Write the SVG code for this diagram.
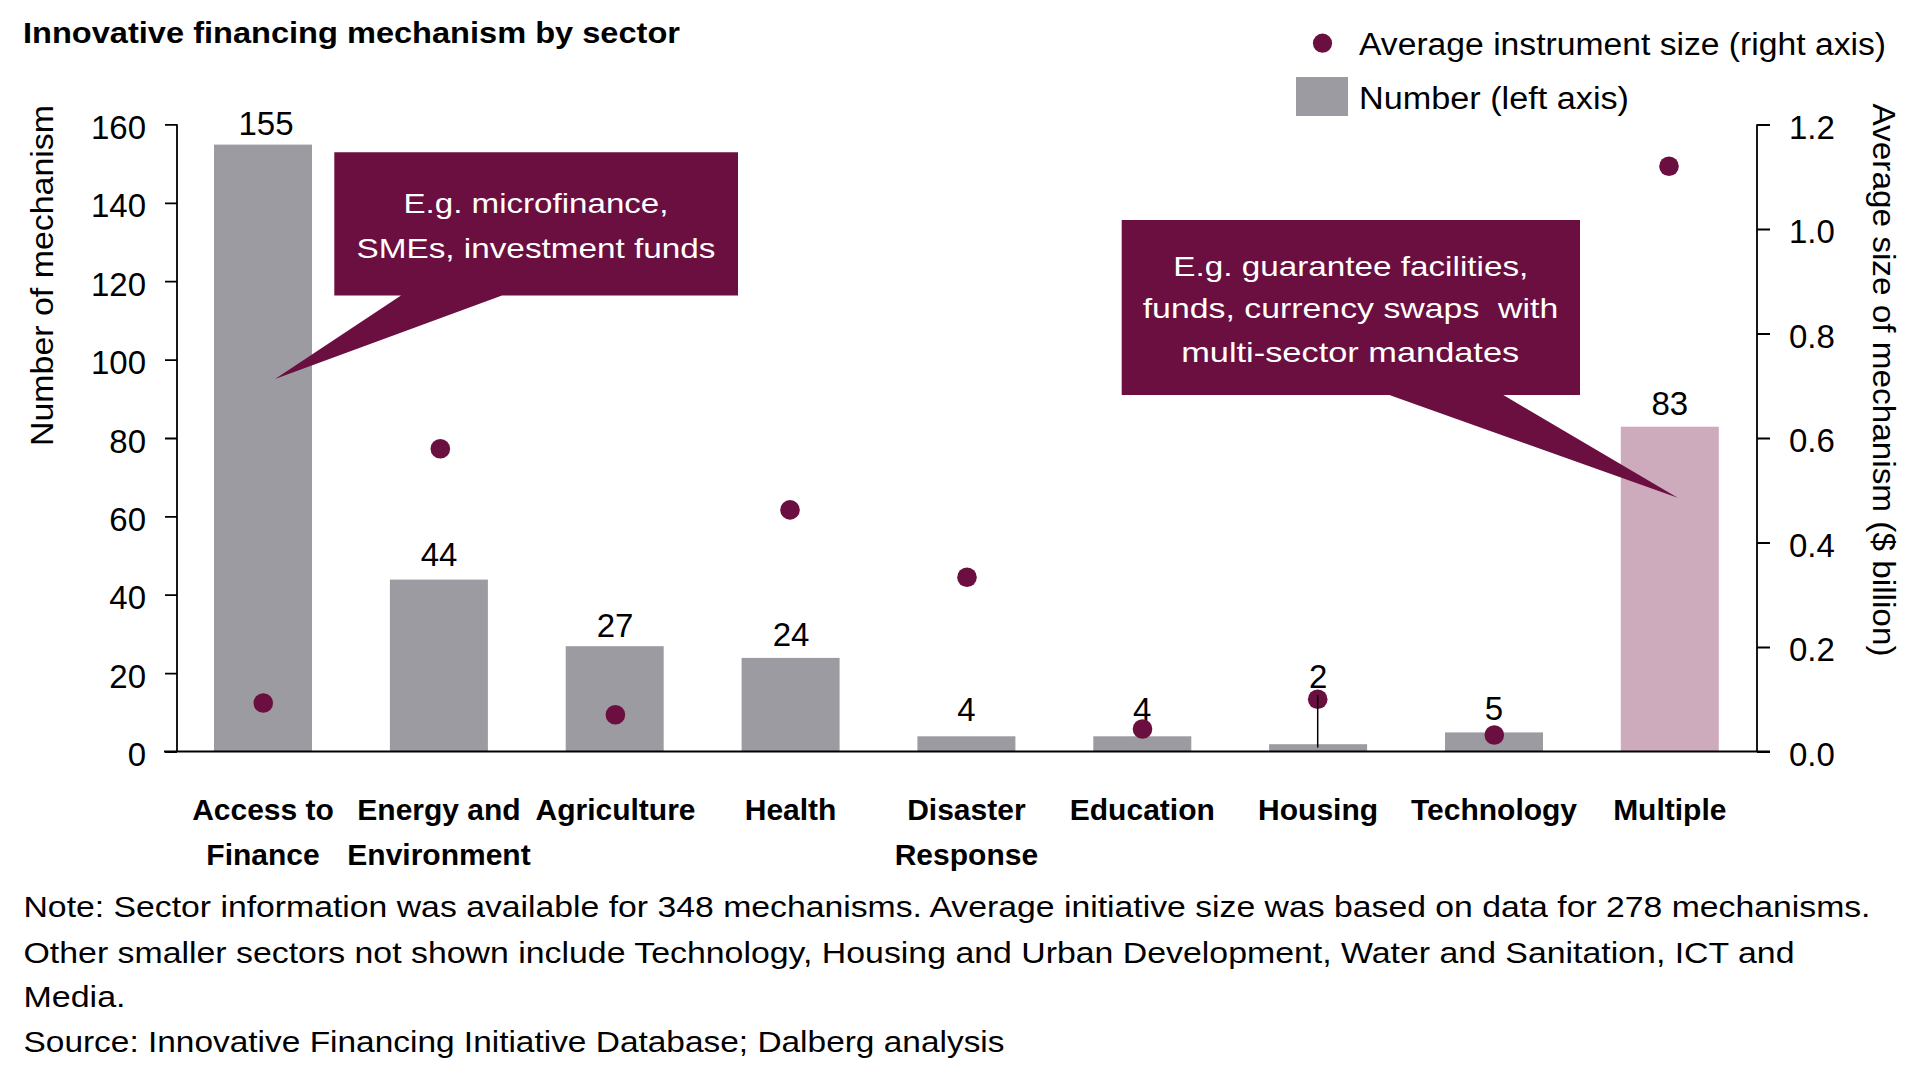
<svg xmlns="http://www.w3.org/2000/svg" width="1920" height="1084" viewBox="0 0 1920 1084">
<style>
  text { font-family: "Liberation Sans", Arial, sans-serif; fill: #000; }
  .title { font-size: 29px; font-weight: bold; }
  .tick { font-size: 33px; }
  .val { font-size: 33px; text-anchor: middle; }
  .cat { font-size: 30px; font-weight: bold; text-anchor: middle; }
  .note { font-size: 30px; }
  .leg { font-size: 31px; }
  .axlab { font-size: 32px; text-anchor: middle; }
  .call { font-size: 28px; fill: #ffffff; text-anchor: middle; }
  .bar { fill: #9C9BA1; }
  .barm { fill: #CDABBD; }
  .dot { fill: #6A0F40; }
  .axis { stroke: #000; stroke-width: 1.8; fill: none; }
  .callout { fill: #6A0F40; }
</style>
<rect x="0" y="0" width="1920" height="1084" fill="#ffffff"/>

<g id="title">
  <text class="title" x="23" y="43.3" textLength="657" lengthAdjust="spacingAndGlyphs">Innovative financing mechanism by sector</text>
</g>

<g id="legend">
  <circle class="dot" cx="1322.5" cy="43.2" r="9.6"/>
  <text class="leg" x="1359" y="55.3" textLength="527" lengthAdjust="spacingAndGlyphs">Average instrument size (right axis)</text>
  <rect class="bar" x="1296" y="77" width="52" height="39"/>
  <text class="leg" x="1359" y="109" textLength="270" lengthAdjust="spacingAndGlyphs">Number (left axis)</text>
</g>

<g id="left-axis">
  <path class="axis" d="M177,124.3 V752 M165,752 H177 M165,673.6 H177 M165,595.2 H177 M165,516.9 H177 M165,438.5 H177 M165,360.1 H177 M165,281.7 H177 M165,203.3 H177 M165,124.9 H177"/>
  <g class="tick" text-anchor="end">
    <text x="146" y="766">0</text>
    <text x="146" y="687.6">20</text>
    <text x="146" y="609.2">40</text>
    <text x="146" y="530.9">60</text>
    <text x="146" y="452.5">80</text>
    <text x="146" y="374.1">100</text>
    <text x="146" y="295.7">120</text>
    <text x="146" y="217.3">140</text>
    <text x="146" y="139">160</text>
  </g>
  <text class="axlab" transform="translate(52.7,275.5) rotate(-90)" textLength="341" lengthAdjust="spacingAndGlyphs">Number of mechanism</text>
</g>

<g id="right-axis">
  <path class="axis" d="M1757,124.3 V752 M1757,752 H1770 M1757,647.5 H1770 M1757,543 H1770 M1757,438.5 H1770 M1757,334 H1770 M1757,229.5 H1770 M1757,125 H1770"/>
  <g class="tick">
    <text x="1789" y="765.5">0.0</text>
    <text x="1789" y="661">0.2</text>
    <text x="1789" y="556.5">0.4</text>
    <text x="1789" y="452">0.6</text>
    <text x="1789" y="347.5">0.8</text>
    <text x="1789" y="243">1.0</text>
    <text x="1789" y="138.5">1.2</text>
  </g>
  <text class="axlab" transform="translate(1872.7,380) rotate(90)" textLength="553" lengthAdjust="spacingAndGlyphs">Average size of mechanism ($ billion)</text>
</g>

<g id="cat-access">
  <rect class="bar" x="214" y="144.6" width="98" height="607.4"/>
  <text class="val" x="266" y="135">155</text>
  <circle class="dot" cx="263.3" cy="703" r="9.8"/>
  <text class="cat" x="263" y="820">Access to</text>
  <text class="cat" x="263" y="865">Finance</text>
</g>

<g id="cat-energy">
  <rect class="bar" x="389.9" y="579.6" width="98" height="172.4"/>
  <text class="val" x="439" y="566">44</text>
  <circle class="dot" cx="440.3" cy="448.7" r="9.8"/>
  <text class="cat" x="439" y="820">Energy and</text>
  <text class="cat" x="439" y="865">Environment</text>
</g>

<g id="cat-agriculture">
  <rect class="bar" x="565.7" y="646.2" width="98" height="105.8"/>
  <text class="val" x="615" y="637">27</text>
  <circle class="dot" cx="615.4" cy="714.8" r="9.8"/>
  <text class="cat" x="615.5" y="820">Agriculture</text>
</g>

<g id="cat-health">
  <rect class="bar" x="741.6" y="657.9" width="98" height="94.1"/>
  <text class="val" x="791" y="646">24</text>
  <circle class="dot" cx="790" cy="509.9" r="9.8"/>
  <text class="cat" x="790.6" y="820">Health</text>
</g>

<g id="cat-disaster">
  <rect class="bar" x="917.4" y="736.3" width="98" height="15.7"/>
  <text class="val" x="966.4" y="721">4</text>
  <circle class="dot" cx="967" cy="577.3" r="9.8"/>
  <text class="cat" x="966.4" y="820">Disaster</text>
  <text class="cat" x="966.4" y="865">Response</text>
</g>

<g id="cat-education">
  <rect class="bar" x="1093.3" y="736.3" width="98" height="15.7"/>
  <text class="val" x="1142.3" y="721">4</text>
  <circle class="dot" cx="1142.5" cy="729" r="9.8"/>
  <text class="cat" x="1142.3" y="820">Education</text>
</g>

<g id="cat-housing">
  <rect class="bar" x="1269.1" y="744.2" width="98" height="7.8"/>
  <text class="val" x="1318.1" y="688">2</text>
  <circle class="dot" cx="1317.7" cy="699.3" r="9.8"/>
  <text class="cat" x="1318.1" y="820">Housing</text>
</g>

<g id="cat-technology">
  <rect class="bar" x="1445" y="732.4" width="98" height="19.6"/>
  <text class="val" x="1494" y="720">5</text>
  <circle class="dot" cx="1494.3" cy="735" r="9.8"/>
  <text class="cat" x="1494" y="820">Technology</text>
</g>

<g id="cat-multiple">
  <rect class="barm" x="1620.8" y="426.7" width="98" height="325.3"/>
  <text class="val" x="1669.8" y="415">83</text>
  <circle class="dot" cx="1669" cy="166.3" r="9.8"/>
  <text class="cat" x="1669.8" y="820">Multiple</text>
</g>

<g id="x-axis">
  <path class="axis" d="M164,751.5 H1770" stroke-width="2.4"/>
</g>

<g id="connectors">
  <path d="M1317.7,695 V747.5" stroke="#000" stroke-width="1.5" fill="none"/>
</g>

<g id="callout-access">
  <path class="callout" d="M334.3,152.3 H738 V295.5 H502 L275,379 L401,295.5 H334.3 Z"/>
  <text class="call" x="536" y="212.6" textLength="265" lengthAdjust="spacingAndGlyphs">E.g. microfinance,</text>
  <text class="call" x="536" y="257.5" textLength="359" lengthAdjust="spacingAndGlyphs">SMEs, investment funds</text>
</g>

<g id="callout-multiple">
  <path class="callout" d="M1121.7,220 H1580 V395 H1503.3 L1677.7,497.8 L1389.3,395 H1121.7 Z"/>
  <text class="call" x="1350.8" y="275.7" textLength="355" lengthAdjust="spacingAndGlyphs">E.g. guarantee facilities,</text>
  <text class="call" x="1350.5" y="318.3" textLength="415.6" lengthAdjust="spacingAndGlyphs" xml:space="preserve">funds, currency swaps  with</text>
  <text class="call" x="1350.2" y="361.7" textLength="338" lengthAdjust="spacingAndGlyphs">multi-sector mandates</text>
</g>

<g id="notes">
  <text class="note" x="23.5" y="916.7" textLength="1847" lengthAdjust="spacingAndGlyphs">Note: Sector information was available for 348 mechanisms. Average initiative size was based on data for 278 mechanisms.</text>
  <text class="note" x="23.5" y="963.3" textLength="1771" lengthAdjust="spacingAndGlyphs">Other smaller sectors not shown include Technology, Housing and Urban Development, Water and Sanitation, ICT and</text>
  <text class="note" x="23.5" y="1006.7" textLength="102" lengthAdjust="spacingAndGlyphs">Media.</text>
  <text class="note" x="23.5" y="1051.7" textLength="981" lengthAdjust="spacingAndGlyphs">Source: Innovative Financing Initiative Database; Dalberg analysis</text>
</g>
</svg>
